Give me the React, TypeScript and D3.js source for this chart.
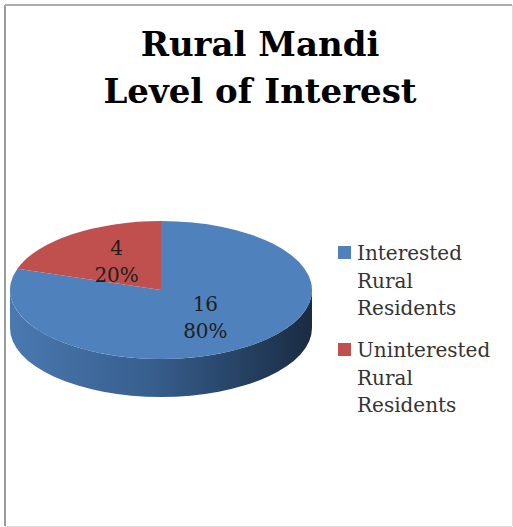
import * as d3 from "d3";

// chart data
const titleLines = ["Rural Mandi", "Level of Interest"];
const categories = ["Interested Rural Residents", "Uninterested Rural Residents"];
const legendLines = [["Interested", "Rural", "Residents"], ["Uninterested", "Rural", "Residents"]];
const values = [16, 4];
const colors = ["#4F81BD", "#C0504D"];

const W = 513, H = 527;

const App = () => {
  // ellipse of the top face
  const cx = 161, cy = 290, rx = 151, ry = 69, depth = 38;

  const total = d3.sum(values);
  const pie = d3.pie<number>().sort(null).value((d) => d);
  const arcs = pie(values);

  const pt = (a: number, dy = 0) => [cx + rx * Math.sin(a), cy - ry * Math.cos(a) + dy];

  const topPath = (a0: number, a1: number) => {
    const p0 = pt(a0), p1 = pt(a1);
    const large = a1 - a0 > Math.PI ? 1 : 0;
    return `M${cx},${cy}L${p0[0]},${p0[1]}A${rx},${ry} 0 ${large} 1 ${p1[0]},${p1[1]}Z`;
  };

  // side wall: only the front half (PI/2 .. 3PI/2) is visible
  const sidePath = (a0: number, a1: number) => {
    const s = Math.max(a0, Math.PI / 2), e = Math.min(a1, (3 * Math.PI) / 2);
    if (e <= s) return null;
    const p0 = pt(s), p1 = pt(e), q1 = pt(e, depth), q0 = pt(s, depth);
    return `M${p0[0]},${p0[1]}A${rx},${ry} 0 0 1 ${p1[0]},${p1[1]}L${q1[0]},${q1[1]}A${rx},${ry} 0 0 0 ${q0[0]},${q0[1]}Z`;
  };

  const fmt = d3.format(".0%");

  return (
    <svg width={W} height={H} style={{ position: "absolute", left: 0, top: 0, background: "#fff" }}>
      <defs>
        <linearGradient id="side0" x1="0" x2="1" y1="0" y2="0">
          <stop offset="0%" stopColor="#4a78b0" />
          <stop offset="45%" stopColor="#38608f" />
          <stop offset="100%" stopColor="#1a2b43" />
        </linearGradient>
        <linearGradient id="side1" x1="0" x2="1" y1="0" y2="0">
          <stop offset="0%" stopColor="#b04a47" />
          <stop offset="100%" stopColor="#5a2220" />
        </linearGradient>
      </defs>

      {/* frame */}
      <line x1={5} y1={5} x2={5} y2={526} stroke="#9c9c9c" strokeWidth={2} />
      <line x1={5} y1={5} x2={512} y2={5} stroke="#acacac" strokeWidth={2} />
      <line x1={512.5} y1={5} x2={512.5} y2={526} stroke="#dcdcdc" strokeWidth={1} />
      <line x1={5} y1={526.5} x2={512} y2={526.5} stroke="#dcdcdc" strokeWidth={1} />

      {/* title */}
      <g fontFamily="'DejaVu Serif', serif" fontWeight="bold" fontSize={34} textAnchor="middle" fill="#000">
        {titleLines.map((t, i) => (
          <text key={t} x={260} y={56 + i * 47}>{t}</text>
        ))}
      </g>

      {/* pie sides */}
      {arcs.map((a, i) => {
        const d = sidePath(a.startAngle, a.endAngle);
        return d ? <path key={"s" + i} d={d} fill={`url(#side${i})`} /> : null;
      })}
      {/* pie tops */}
      {arcs.map((a, i) => (
        <path key={"t" + i} d={topPath(a.startAngle, a.endAngle)} fill={colors[i]} />
      ))}

      {/* data labels */}
      <g fontFamily="'DejaVu Serif', serif" fontSize={20} textAnchor="middle" fill="#1e1e1e">
        {arcs.map((a, i) => {
          const m = (a.startAngle + a.endAngle) / 2;
          const x = cx + rx * 0.5 * Math.sin(m);
          const y = cy - ry * 0.5 * Math.cos(m);
          return (
            <g key={"l" + i}>
              <text x={x} y={y - 7}>{values[i]}</text>
              <text x={x} y={y + 20}>{fmt(values[i] / total)}</text>
            </g>
          );
        })}
      </g>

      {/* legend */}
      <g fontFamily="'DejaVu Serif', serif" fontSize={20} fill="#333">
        {categories.map((c, i) => (
          <g key={c} transform={`translate(0, ${i * 97})`}>
            <rect x={338} y={246} width={13} height={13} fill={colors[i]} />
            {legendLines[i].map((t, j) => (
              <text key={j} x={357} y={260 + j * 27.5}>{t}</text>
            ))}
          </g>
        ))}
      </g>
    </svg>
  );
};

export default App;
